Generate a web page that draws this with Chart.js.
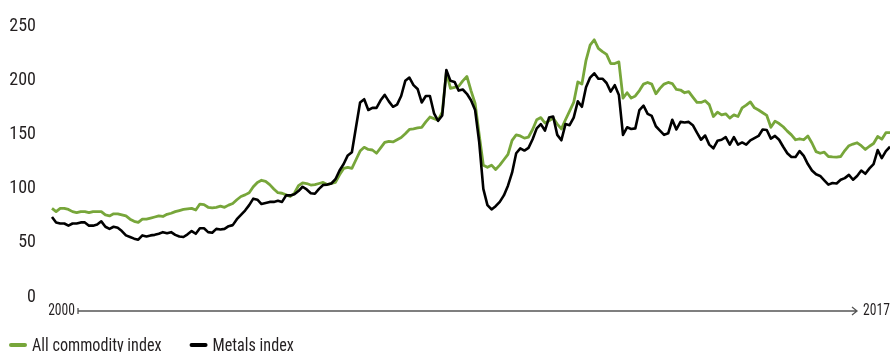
<!DOCTYPE html>
<html>
<head>
<meta charset="utf-8">
<script src="https://cdn.jsdelivr.net/npm/chart.js@4.4.1/dist/chart.umd.min.js"></script>
<style>
  html, body { margin: 0; padding: 0; background: #fff; }
  #wrap { width: 890px; height: 352px; position: relative; }
</style>
</head>
<body>
<div id="wrap"><canvas id="commodities"></canvas></div>
<script>
// monthly index values, Jan 2000 -> Jan 2017
const startYear = 2000;
const seriesNames = ["All commodity index", "Metals index"];
const seriesColors = ["#77a63a", "#000000"];
const yTicks = [0, 50, 100, 150, 200, 250];
const axisLabels = ["2000", "2017"];

const allCommodity = [
    82, 79, 82, 82, 81, 79, 78, 79, 79, 78,
    79, 79, 79, 76, 75, 77, 77, 76, 75, 72,
    70, 69, 72, 72, 73, 74, 75, 74.5, 76.5, 77.5,
    79, 80, 81, 81.5, 82, 80.5, 86, 85.5, 83, 82.5,
    83, 84, 83, 85, 86.5, 90, 93, 94.5, 96.5, 102,
    106, 108, 107, 104, 100, 96.5, 96, 94.5, 93, 96,
    103, 105.5, 105, 103.6, 104, 105, 106, 104, 105, 106,
    113, 119, 120, 119, 127, 135, 138.5, 136.5, 136, 133,
    138, 143, 144, 143.5, 145.5, 147.5, 151, 155, 155.5, 156.5,
    157, 162, 166.5, 165, 163.6, 171, 208, 193, 194, 195,
    200, 204, 191, 179, 150, 122, 120, 122, 118, 122,
    127, 132, 145, 150, 149, 147, 148, 155, 164, 166,
    161, 163, 165.5, 160, 155.5, 164, 172, 180, 199, 197,
    219, 233, 238, 230, 227, 224.5, 216, 216, 217.5, 184,
    189, 184, 186, 191, 197, 198.5, 197, 188, 193, 197,
    198.5, 197.5, 192, 191.5, 189, 190, 185, 180, 180, 181.6,
    178, 167, 171, 168.5, 169.5, 165.5, 168.5, 167, 175, 177.5,
    180.5, 175, 173, 170.5, 168, 157, 162.7, 160.5, 157.5, 153.5,
    150, 145.5, 146.4, 145.5, 149, 142.5, 134.5, 133, 134, 130,
    129.7, 129.5, 130, 135.5, 140, 141.5, 142.7, 140, 136.5, 139.5,
    142, 148.5, 146, 152, 152
];

const metals = [
    74, 69, 68, 68, 66, 68, 68, 69, 69, 66,
    66, 67, 70, 65, 63, 65, 64, 61, 57, 55.5,
    54, 53, 57, 56, 57, 57.5, 58.5, 60, 59, 60,
    57.5, 56, 55.5, 58, 61, 58.5, 63.6, 63.6, 60, 59.5,
    63, 62.5, 63, 65.5, 66.5, 72, 76, 80, 85, 91,
    90, 86, 87, 88, 88, 89, 88, 94, 94, 95,
    98, 102, 99.5, 96, 95.5, 100, 103.6, 104, 105, 109,
    117, 123, 131, 134, 157, 180, 183, 173, 175, 175,
    182, 187, 181, 176, 178, 186, 200, 203, 196, 192.5,
    180, 186, 186, 170, 163, 168, 210, 200, 199, 191,
    192, 188, 182, 173, 143, 100, 85, 81, 84, 88,
    94, 103, 115, 133, 137.5, 135.5, 138, 146, 156, 160,
    154, 166, 167, 150, 145, 160, 159, 166, 181, 176,
    194, 203, 207, 202, 202, 198, 190, 196, 187, 150,
    157, 155.5, 156, 173, 177, 169.5, 167.5, 158, 154, 150,
    151.5, 164, 155, 162, 161.5, 162, 159, 152, 145.5, 149.4,
    141, 137.6, 144.5, 145.5, 148, 141, 148, 141, 143, 141,
    145, 147, 149, 155, 154.5, 146.5, 149, 145.5, 139, 133,
    129.5, 129.5, 135, 130.5, 123, 117, 113.5, 112, 108, 104,
    105.5, 105, 108.5, 110, 113, 108.5, 112, 117, 114, 119,
    123, 136, 128.5, 135, 139
];

const FONT = "'Liberation Sans Narrow', 'Roboto Condensed', Roboto, sans-serif";
const TEXT = "#231f20";
const SQUEEZE = 0.85; // the original type is a condensed face

let labels = [];
for (let i = 0; i < allCommodity.length; i++) {
    let year = startYear + Math.floor(i / 12);
    let month = String(i % 12 + 1).padStart(2, '0');
    labels.push(year + "-" + month);
}

function narrowText(ctx, text, x, y) {
    ctx.save();
    ctx.translate(x, y);
    ctx.scale(SQUEEZE, 1);
    ctx.fillText(text, 0, 0);
    ctx.restore();
    return ctx.measureText(text).width * SQUEEZE;
}

// arrow axis under the plot + legend at the bottom
const decorPlugin = {
    id: 'decor',
    afterDraw(chart) {
        let ctx = chart.ctx;
        let area = chart.chartArea;
        let y = chart.scales.y.getPixelForValue(0) + 14;
        let x0 = area.left + 26;
        let x1 = area.right - 33;

        ctx.save();
        ctx.strokeStyle = "#555";
        ctx.lineWidth = 1.3;
        ctx.beginPath();
        ctx.moveTo(x0, y);
        ctx.lineTo(x1, y);
        ctx.moveTo(x0, y - 3);
        ctx.lineTo(x0, y + 3);
        ctx.moveTo(x1 - 5, y - 4);
        ctx.lineTo(x1, y);
        ctx.lineTo(x1 - 5, y + 4);
        ctx.stroke();

        ctx.fillStyle = TEXT;
        ctx.font = "16px " + FONT;
        ctx.textBaseline = "middle";
        ctx.textAlign = "left";
        let w = ctx.measureText(axisLabels[0]).width * SQUEEZE;
        narrowText(ctx, axisLabels[0], x0 - 3 - w, y);
        narrowText(ctx, axisLabels[1], x1 + 6, y);

        // legend
        ctx.font = "19px " + FONT;
        ctx.textBaseline = "alphabetic";
        ctx.lineCap = "round";
        ctx.lineWidth = 4;
        let lx = 11;
        chart.data.datasets.forEach(ds => {
            ctx.strokeStyle = ds.borderColor;
            ctx.beginPath();
            ctx.moveTo(lx, 345);
            ctx.lineTo(lx + 14, 345);
            ctx.stroke();
            ctx.fillStyle = TEXT;
            let tw = narrowText(ctx, ds.label, lx + 21, 351);
            lx += 21 + tw + 30;
        });
        ctx.restore();
    }
};

let ctx = document.getElementById('commodities').getContext('2d');
new Chart(ctx, {
    type: 'line',
    data: {
        labels: labels,
        datasets: [{
            label: seriesNames[0],
            data: allCommodity,
            borderColor: seriesColors[0],
            borderWidth: 2.8,
            order: 1
        }, {
            label: seriesNames[1],
            data: metals,
            borderColor: seriesColors[1],
            borderWidth: 2.6,
            order: 0
        }]
    },
    options: {
        responsive: true,
        maintainAspectRatio: false,
        animation: false,
        devicePixelRatio: 1,
        layout: { padding: { top: 22, bottom: 55, left: 0, right: 0 } },
        elements: {
            point: { radius: 0 },
            line: { tension: 0, borderJoinStyle: 'round', fill: false }
        },
        scales: {
            x: { type: 'category', display: false, offset: false },
            y: {
                min: yTicks[0],
                max: yTicks[yTicks.length - 1],
                afterBuildTicks: scale => { scale.ticks = yTicks.map(v => ({ value: v })); },
                afterFit: scale => { scale.width = 52; },
                ticks: { padding: 16, color: TEXT, font: { family: FONT, size: 18 } },
                grid: { display: false, drawTicks: false },
                border: { display: false }
            }
        },
        plugins: {
            legend: { display: false },
            tooltip: { enabled: false }
        }
    },
    plugins: [decorPlugin]
});
</script>
</body>
</html>
